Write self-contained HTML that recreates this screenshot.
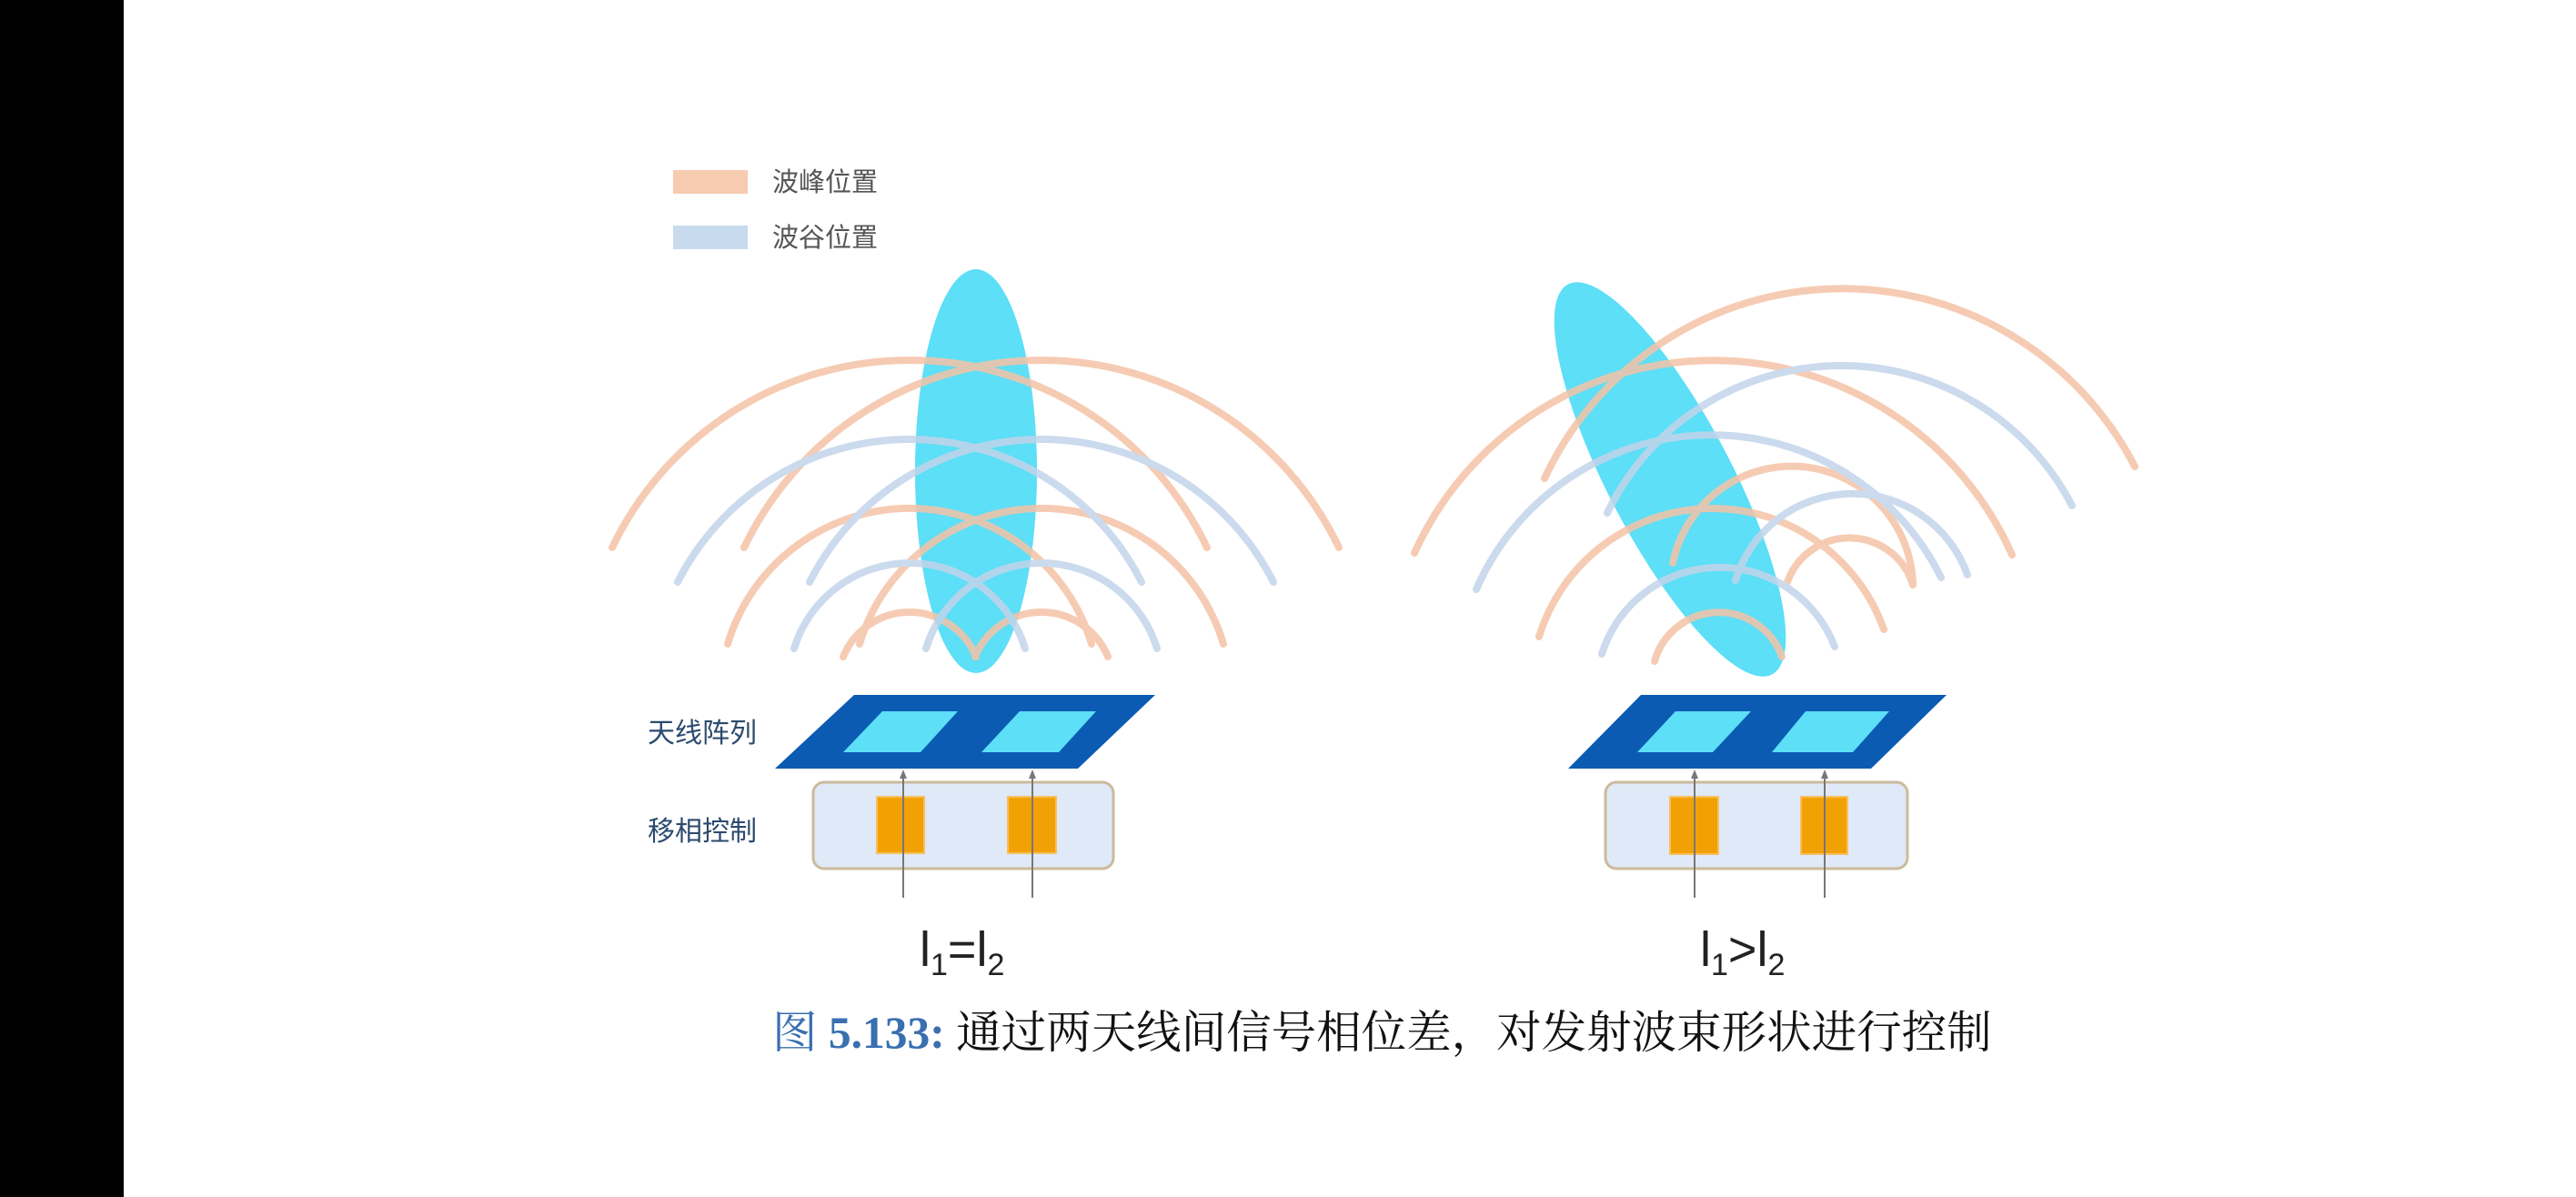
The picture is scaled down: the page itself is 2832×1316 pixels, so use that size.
<!DOCTYPE html>
<html><head><meta charset="utf-8"><style>
html,body{margin:0;padding:0;background:#fff;}
svg{display:block;}
</style></head><body>
<svg width="2832" height="1316" viewBox="0 0 2832 1316" xmlns="http://www.w3.org/2000/svg">
<rect x="0" y="0" width="2832" height="1316" fill="#fff"/>
<rect x="0" y="0" width="136" height="1316" fill="#000"/>

<!-- legend -->
<rect x="740" y="187" width="82" height="26" fill="#f7cbb0"/>
<rect x="740" y="248" width="82" height="26" fill="#c8daee"/>
<g font-family="Liberation Sans, Noto Sans CJK SC, sans-serif" font-size="29" fill="#555">
<text x="849" y="210">波峰位置</text>
<text x="849" y="271">波谷位置</text>
</g>

<!-- LEFT -->
<ellipse cx="1073" cy="518" rx="67" ry="222" fill="#5cdff7"/>
<g fill="none" stroke-width="8" stroke-linecap="round" opacity="0.85">
<g stroke="#f5c3a6">
<path d="M673 602 A362.5 362.5 0 0 1 1327 602"/>
<path d="M818 602 A362.5 362.5 0 0 1 1472 602"/>
<path d="M800 708 A208.7 208.7 0 0 1 1200 708"/>
<path d="M945 708 A208.7 208.7 0 0 1 1345 708"/>
<path d="M927 722 A78.9 78.9 0 0 1 1073 722"/>
<path d="M1072 722 A78.9 78.9 0 0 1 1218 722"/>
</g>
<g stroke="#c3d4ea">
<path d="M745 640 A285.6 285.6 0 0 1 1255 640"/>
<path d="M890 640 A285.6 285.6 0 0 1 1400 640"/>
<path d="M873 713 A132.8 132.8 0 0 1 1127 713"/>
<path d="M1018 713 A132.8 132.8 0 0 1 1272 713"/>
</g>
</g>
<polygon points="939,764 1270,764 1185,845 852,845" fill="#0b5bb3"/>
<polygon points="970,782 1053,782 1012,827 927,827" fill="#5cdff7"/>
<polygon points="1121,782 1205,782 1164,827 1079,827" fill="#5cdff7"/>
<rect x="894" y="860" width="330" height="95" rx="12" fill="#dfe9f7" stroke="#cbbb9c" stroke-width="3"/>
<rect x="964" y="876" width="52" height="62" fill="#f2a104" stroke="#f6c060" stroke-width="2"/>
<rect x="1108" y="876" width="53" height="62" fill="#f2a104" stroke="#f6c060" stroke-width="2"/>
<g stroke="#777" stroke-width="2">
<line x1="993" y1="852" x2="993" y2="987"/>
<line x1="1135" y1="852" x2="1135" y2="987"/>
</g>
<polygon points="993,846 989,856 997,856" fill="#777"/>
<polygon points="1135,846 1131,856 1139,856" fill="#777"/>
<g font-family="Liberation Sans, Noto Sans CJK SC, sans-serif" font-size="30" fill="#2b4a6e">
<text x="712" y="816">天线阵列</text>
<text x="712" y="924">移相控制</text>
</g>
<text x="1011" y="1062" font-family="Liberation Sans, sans-serif" font-size="54" fill="#222">l<tspan font-size="34" dy="10">1</tspan><tspan dy="-10">=l</tspan><tspan font-size="34" dy="10">2</tspan></text>

<!-- RIGHT -->
<ellipse cx="1836" cy="527" rx="68" ry="242" fill="#5cdff7" transform="rotate(-27.6 1836 527)"/>
<g fill="none" stroke-width="8" stroke-linecap="round" opacity="0.85">
<g stroke="#f5c3a6">
<path d="M1555 608 A360 360 0 0 1 2212 610"/>
<path d="M1698 526 A361.6 361.6 0 0 1 2347 513"/>
<path d="M1692 700 A199.6 199.6 0 0 1 2071 692"/>
<path d="M1839 619 A133.4 133.4 0 0 1 2103 643"/>
<path d="M1819 727 A73.5 73.5 0 0 1 1959 722"/>
<path d="M1965 640 A72.6 72.6 0 0 1 2103 643"/>
</g>
<g stroke="#c3d4ea">
<path d="M1623 648 A281.7 281.7 0 0 1 2134 635"/>
<path d="M1767 564 A285.6 285.6 0 0 1 2278 556"/>
<path d="M1761 719 A135.5 135.5 0 0 1 2017 711"/>
<path d="M1908 638 A134.3 134.3 0 0 1 2163 632"/>
</g>
</g>
<polygon points="1804,764 2140,764 2057,845 1724,845" fill="#0b5bb3"/>
<polygon points="1842,782 1925,782 1883,827 1800,827" fill="#5cdff7"/>
<polygon points="1985,782 2077,782 2037,827 1948,827" fill="#5cdff7"/>
<rect x="1765" y="860" width="332" height="95" rx="12" fill="#dfe9f7" stroke="#cbbb9c" stroke-width="3"/>
<rect x="1836" y="876" width="53" height="63" fill="#f2a104" stroke="#f6c060" stroke-width="2"/>
<rect x="1980" y="876" width="51" height="63" fill="#f2a104" stroke="#f6c060" stroke-width="2"/>
<g stroke="#777" stroke-width="2">
<line x1="1863" y1="852" x2="1863" y2="987"/>
<line x1="2006" y1="852" x2="2006" y2="987"/>
</g>
<polygon points="1863,846 1859,856 1867,856" fill="#777"/>
<polygon points="2006,846 2002,856 2010,856" fill="#777"/>
<text x="1869" y="1062" font-family="Liberation Sans, sans-serif" font-size="54" fill="#222">l<tspan font-size="34" dy="10">1</tspan><tspan dy="-10">&gt;l</tspan><tspan font-size="34" dy="10">2</tspan></text>

<!-- caption -->
<text x="849" y="1152" font-family="Liberation Serif, Noto Serif CJK SC, serif" font-size="49.5" fill="#111"><tspan fill="#3a6fb0">图 <tspan font-weight="bold">5.133:</tspan></tspan> 通过两天线间信号相位差，对发射波束形状进行控制</text>
</svg>
</body></html>
